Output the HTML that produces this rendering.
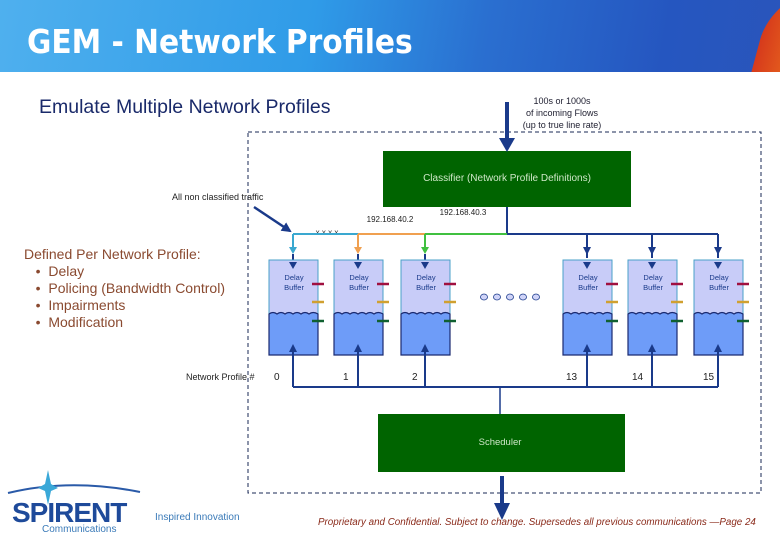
<!DOCTYPE html>
<html><head><meta charset="utf-8"><style>
body{margin:0;width:780px;height:540px;overflow:hidden;background:#fff;font-family:"Liberation Sans",sans-serif;position:relative}
.hdr{position:absolute;left:0;top:0;width:780px;height:72px;overflow:hidden;background:linear-gradient(100deg,#4fb0ee 0%,#2f9be8 40%,#2a6fd0 62%,#2556c0 85%,#2a55bb 100%)}
.hdr .t{position:absolute;left:27px;top:22px;font-size:33px;color:#fff;font-weight:bold;font-family:"DejaVu Sans Condensed","Liberation Sans Narrow",sans-serif}
.abs{position:absolute}
</style></head><body>
<div class="hdr"><div class="abs" style="left:760px;top:-10px;width:60px;height:100px;border-radius:50px 0 0 0;background:linear-gradient(90deg,#d63a1c,#f07a1e);transform:skewX(-15deg)"></div><div class="t">GEM - Network Profiles</div></div>
<div class="abs" style="left:39px;top:96px;font-size:19.5px;color:#1a2a6a">Emulate Multiple Network Profiles</div>
<div class="abs" style="left:500px;top:95px;width:124px;text-align:center;font-size:9px;line-height:12px;color:#223">100s or 1000s<br>of incoming Flows<br>(up to true line rate)</div>
<div class="abs" style="left:24px;top:246px;font-size:14px;line-height:17px;color:#8a4a30">Defined Per Network Profile:<br>&nbsp;&nbsp;&nbsp;•&nbsp; Delay<br>&nbsp;&nbsp;&nbsp;•&nbsp; Policing (Bandwidth Control)<br>&nbsp;&nbsp;&nbsp;•&nbsp; Impairments<br>&nbsp;&nbsp;&nbsp;•&nbsp; Modification</div>
<svg class="abs" style="left:0;top:0" width="780" height="540" font-family="Liberation Sans,sans-serif">
<defs><marker id="a" viewBox="0 0 10 10" refX="8" refY="5" markerWidth="4" markerHeight="4" orient="auto"><path d="M0,0L10,5L0,10z" fill="#1a3a8a"/></marker></defs>
<rect x="248" y="132" width="513" height="361" fill="none" stroke="#1a2a55" stroke-dasharray="4,3"/>
<rect x="383" y="151" width="248" height="56" fill="#006400"/>
<text x="507" y="181" font-size="10" fill="#cfe8c8" text-anchor="middle">Classifier (Network Profile Definitions)</text>
<line x1="507" y1="102" x2="507" y2="140" stroke="#1a3a8a" stroke-width="4"/><path d="M499,138L515,138L507,152z" fill="#1a3a8a"/>
<text x="172" y="200" font-size="9" fill="#222">All non classified traffic</text>
<line x1="254" y1="207" x2="290" y2="231" stroke="#1a3a8a" stroke-width="2.5" marker-end="url(#a)"/>
<text x="390" y="222" font-size="8" fill="#222" text-anchor="middle">192.168.40.2</text>
<text x="463" y="215" font-size="8" fill="#222" text-anchor="middle">192.168.40.3</text>
<text x="327" y="235" font-size="8" fill="#333" text-anchor="middle">x.x.x.x</text>
<line x1="507" y1="207" x2="507" y2="234" stroke="#1a3a8a" stroke-width="2"/>
<line x1="293" y1="234" x2="358" y2="234" stroke="#3aa8d0" stroke-width="2"/>
<line x1="358" y1="234" x2="425" y2="234" stroke="#f0a050" stroke-width="2"/>
<line x1="425" y1="234" x2="507" y2="234" stroke="#40c040" stroke-width="2"/>
<line x1="507" y1="234" x2="718" y2="234" stroke="#1a3a8a" stroke-width="2"/>
<line x1="293" y1="234" x2="293" y2="252" stroke="#3aa8d0" stroke-width="2"/><path d="M289,247L297,247L293,254z" fill="#3aa8d0"/>
<line x1="358" y1="234" x2="358" y2="252" stroke="#f0a050" stroke-width="2"/><path d="M354,247L362,247L358,254z" fill="#f0a050"/>
<line x1="425" y1="234" x2="425" y2="252" stroke="#40c040" stroke-width="2"/><path d="M421,247L429,247L425,254z" fill="#40c040"/>
<g stroke="#1a3a8a" stroke-width="2">
<line x1="587" y1="234" x2="587" y2="258"/><line x1="652" y1="234" x2="652" y2="258"/><line x1="718" y1="234" x2="718" y2="258"/>
<line x1="293" y1="254" x2="293" y2="262"/><line x1="358" y1="254" x2="358" y2="262"/><line x1="425" y1="254" x2="425" y2="262"/>
</g>
<g fill="#1a3a8a"><path d="M583,247L591,247L587,255z"/><path d="M648,247L656,247L652,255z"/><path d="M714,247L722,247L718,255z"/></g>
<g id="bufs"></g>
<line x1="293" y1="387" x2="718" y2="387" stroke="#1a3a8a" stroke-width="2"/>
<line x1="500" y1="387" x2="500" y2="414" stroke="#1a3a8a" stroke-width="1.5"/>
<rect x="378" y="414" width="247" height="58" fill="#006400"/>
<text x="500" y="445" font-size="9.5" fill="#cfe8c8" text-anchor="middle">Scheduler</text>
<line x1="502" y1="476" x2="502" y2="505" stroke="#1a3a8a" stroke-width="4"/><path d="M494,503L510,503L502,520z" fill="#1a3a8a"/>
<text x="186" y="380" font-size="9" fill="#222">Network Profile #</text>
<g font-size="10" fill="#222"><text x="274" y="380">0</text><text x="343" y="380">1</text><text x="412" y="380">2</text><text x="566" y="380">13</text><text x="632" y="380">14</text><text x="703" y="380">15</text></g>
<g fill="#d0d4f8" stroke="#1a3a8a" stroke-width="0.8"><ellipse cx="484" cy="297" rx="3.5" ry="3"/><ellipse cx="497" cy="297" rx="3.5" ry="3"/><ellipse cx="510" cy="297" rx="3.5" ry="3"/><ellipse cx="523" cy="297" rx="3.5" ry="3"/><ellipse cx="536" cy="297" rx="3.5" ry="3"/></g>
<text x="318" y="525" font-size="9.8" font-style="italic" fill="#8a2a1a">Proprietary and Confidential.  Subject to change.  Supersedes all previous communications —Page 24</text>
<path d="M8,493Q70,478 140,492" stroke="#2a5aa8" stroke-width="2" fill="none"/>
<path d="M48,470L51,484L58,488L51,491L48,505L45,491L38,488L45,484z" fill="#3aa8d8"/>
<text x="12" y="522" font-size="28" font-weight="bold" fill="#1e4a9a" letter-spacing="-1">SPIRENT</text>
<text x="42" y="532" font-size="10" fill="#3a7ab8">Communications</text>
<text x="155" y="520" font-size="10" fill="#3a7ab8">Inspired Innovation</text>
</svg>
<script>
var xs=[293,358,425,587,652,718],g=document.getElementById('bufs'),s='';
xs.forEach(function(c){var l=c-24,r=c+25;
s+='<rect x="'+l+'" y="260" width="49" height="95" fill="#c8ccf8" stroke="#4aa0c8" stroke-width="1"/>';
s+='<path d="M'+l+',314 q4,-3 8,0 q4,-3 8,0 q4,-3 8,0 q4,-3 8,0 q4,-3 8,0 q4,-3 9,0 L'+r+',355 L'+l+',355z" fill="#6e9cf8" stroke="#1a2a70" stroke-width="1.2"/>';
s+='<text x="'+(c+1)+'" y="280" font-size="7.5" fill="#1a3a8a" text-anchor="middle">Delay</text><text x="'+(c+1)+'" y="290" font-size="7.5" fill="#1a3a8a" text-anchor="middle">Buffer</text>';
s+='<line x1="'+(r-6)+'" y1="284" x2="'+(r+6)+'" y2="284" stroke="#a01040" stroke-width="2.5"/>';
s+='<line x1="'+(r-6)+'" y1="302" x2="'+(r+6)+'" y2="302" stroke="#d0a030" stroke-width="2.5"/>';
s+='<line x1="'+(r-6)+'" y1="321" x2="'+(r+6)+'" y2="321" stroke="#106030" stroke-width="2.5"/>';
s+='<line x1="'+c+'" y1="387" x2="'+c+'" y2="348" stroke="#1a3a8a" stroke-width="2"/><path d="M'+(c-4)+',352L'+(c+4)+',352L'+c+',344z" fill="#1a3a8a"/>';
s+='<path d="M'+(c-4)+',262L'+(c+4)+',262L'+c+',269z" fill="#1a3a8a"/>';
});
g.innerHTML=s;
</script>
</body></html>
